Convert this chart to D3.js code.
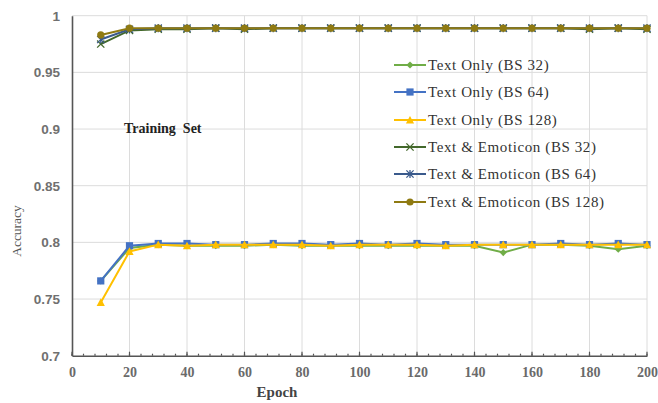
<!DOCTYPE html>
<html><head><meta charset="utf-8">
<script src="https://cdn.jsdelivr.net/npm/d3@7"></script>
<style>body{margin:0;background:#fff;} svg{display:block;}</style>
</head><body>
<svg id="c" width="658" height="403"></svg>
<script>
const epochs = [10,20,30,40,50,60,70,80,90,100,110,120,130,140,150,160,170,180,190,200];
const textBS32  = [0.766,0.795,0.798,0.797,0.797,0.797,0.798,0.797,0.797,0.797,0.797,0.797,0.797,0.797,0.791,0.798,0.798,0.797,0.794,0.797];
const textBS64  = [0.766,0.797,0.799,0.799,0.798,0.798,0.799,0.799,0.798,0.799,0.798,0.799,0.798,0.798,0.798,0.798,0.799,0.798,0.799,0.798];
const textBS128 = [0.747,0.792,0.798,0.797,0.798,0.798,0.798,0.798,0.797,0.798,0.798,0.798,0.797,0.798,0.798,0.798,0.798,0.798,0.798,0.798];
const emoBS32   = [0.975,0.987,0.988,0.988,0.989,0.988,0.989,0.989,0.989,0.989,0.989,0.989,0.989,0.989,0.989,0.989,0.989,0.988,0.989,0.988];
const emoBS64   = [0.979,0.988,0.989,0.989,0.989,0.989,0.989,0.989,0.989,0.989,0.989,0.989,0.989,0.989,0.989,0.989,0.989,0.989,0.989,0.989];
const emoBS128  = [0.983,0.989,0.989,0.989,0.989,0.989,0.989,0.989,0.989,0.989,0.989,0.989,0.989,0.989,0.989,0.989,0.989,0.989,0.989,0.989];
const seriesNames = ["Text Only (BS 32)","Text Only (BS 64)","Text Only (BS 128)","Text & Emoticon (BS 32)","Text & Emoticon (BS 64)","Text & Emoticon (BS 128)"];
const xTicks = [0,20,40,60,80,100,120,140,160,180,200];
const yTicks = [0.7,0.75,0.8,0.85,0.9,0.95,1];

const series = [
  {name:seriesNames[0], values:textBS32, color:"#70AD47", marker:"diamond"},
  {name:seriesNames[1], values:textBS64, color:"#4472C4", marker:"square"},
  {name:seriesNames[2], values:textBS128, color:"#FFC000", marker:"triangle"},
  {name:seriesNames[3], values:emoBS32, color:"#43682B", marker:"x"},
  {name:seriesNames[4], values:emoBS64, color:"#3A5A8C", marker:"star"},
  {name:seriesNames[5], values:emoBS128, color:"#8F7A12", marker:"circle"}
];

const svg = d3.select("#c");
const L=72, R=647, T=15.7, B=355.7;
const x = d3.scaleLinear().domain([0,200]).range([L,R]);
const y = d3.scaleLinear().domain([0.7,1]).range([B,T]);

// grid
svg.append("g").selectAll("line").data(xTicks.slice(1)).join("line")
  .attr("x1",d=>x(d)).attr("x2",d=>x(d)).attr("y1",T).attr("y2",B)
  .attr("stroke","#dcdcdc").attr("stroke-width",1);
svg.append("g").selectAll("line").data(yTicks.slice(1)).join("line")
  .attr("x1",L).attr("x2",R).attr("y1",d=>y(d)).attr("y2",d=>y(d))
  .attr("stroke","#dcdcdc").attr("stroke-width",1);

// axes
const xAxis = svg.append("g").attr("transform",`translate(0,${B})`)
  .call(d3.axisBottom(x).tickValues(xTicks).tickSize(0).tickPadding(11).tickFormat(d3.format("d")));
xAxis.select(".domain").attr("stroke","#555").attr("stroke-width",1.6);
xAxis.selectAll("text").attr("font-family","Liberation Serif").attr("font-size",14).attr("font-weight","bold").attr("fill","#6a6a6a");
// minor ticks
const minor = d3.range(0,201,4);
svg.append("g").selectAll("line").data(minor).join("line")
  .attr("x1",d=>x(d)).attr("x2",d=>x(d)).attr("y1",B-2).attr("y2",B)
  .attr("stroke","#555").attr("stroke-width",1.2);
svg.append("g").selectAll("line").data(xTicks).join("line")
  .attr("x1",d=>x(d)).attr("x2",d=>x(d)).attr("y1",B-4).attr("y2",B)
  .attr("stroke","#555").attr("stroke-width",1.2);

const yAxis = svg.append("g").attr("transform",`translate(${L},0)`)
  .call(d3.axisLeft(y).tickValues(yTicks).tickSize(0).tickPadding(12).tickFormat(d=>String(+d.toFixed(2))));
yAxis.select(".domain").attr("stroke","#555").attr("stroke-width",1.6);
yAxis.selectAll("text").attr("font-family","Liberation Sans").attr("font-size",13.5).attr("font-weight","bold").attr("fill","#707070");

// labels
svg.append("text").attr("x",277).attr("y",397).attr("text-anchor","middle")
  .attr("font-family","Liberation Serif").attr("font-weight","bold").attr("font-size",15).attr("fill","#444").text("Epoch");
svg.append("text").attr("transform","translate(21,231) rotate(-90)").attr("text-anchor","middle")
  .attr("font-family","Liberation Serif").attr("font-size",13.5).attr("fill","#555").text("Accuracy");
svg.append("text").attr("x",124).attr("y",133)
  .attr("font-family","Liberation Serif").attr("font-weight","bold").attr("font-size",14).attr("fill","#222")
  .style("white-space","pre").text("Training  Set");

function drawMarker(g, type, color, cx, cy){
  const s=3.6;
  if(type==="diamond"){
    g.append("path").attr("d",`M${cx},${cy-s}L${cx+s},${cy}L${cx},${cy+s}L${cx-s},${cy}Z`).attr("fill",color);
  } else if(type==="square"){
    g.append("rect").attr("x",cx-s).attr("y",cy-s).attr("width",2*s).attr("height",2*s).attr("fill",color);
  } else if(type==="triangle"){
    g.append("path").attr("d",`M${cx},${cy-s-0.5}L${cx+s+0.5},${cy+s}L${cx-s-0.5},${cy+s}Z`).attr("fill",color);
  } else if(type==="x"){
    g.append("path").attr("d",`M${cx-s},${cy-s}L${cx+s},${cy+s}M${cx-s},${cy+s}L${cx+s},${cy-s}`).attr("stroke",color).attr("stroke-width",1.3);
  } else if(type==="star"){
    g.append("path").attr("d",`M${cx-s},${cy-s}L${cx+s},${cy+s}M${cx-s},${cy+s}L${cx+s},${cy-s}M${cx},${cy-s-0.5}L${cx},${cy+s+0.5}`).attr("stroke",color).attr("stroke-width",1.3);
  } else if(type==="circle"){
    g.append("circle").attr("cx",cx).attr("cy",cy).attr("r",s).attr("fill",color);
  }
}

const line = d3.line().x(d=>x(d[0])).y(d=>y(d[1]));
series.forEach(s=>{
  const g = svg.append("g");
  const pts = epochs.map((e,i)=>[e,s.values[i]]);
  g.append("path").attr("d",line(pts)).attr("fill","none").attr("stroke",s.color).attr("stroke-width",2);
  pts.forEach(p=>drawMarker(g,s.marker,s.color,x(p[0]),y(p[1])));
});

// legend
const legY = [65,92,120,147,174,202];
series.forEach((s,i)=>{
  const g = svg.append("g");
  g.append("line").attr("x1",394).attr("x2",426).attr("y1",legY[i]).attr("y2",legY[i]).attr("stroke",s.color).attr("stroke-width",2);
  drawMarker(g,s.marker,s.color,410,legY[i]);
  g.append("text").attr("x",428).attr("y",legY[i]+5).attr("font-family","Liberation Serif").attr("font-size",15)
    .attr("letter-spacing",0.6).attr("fill","#333").text(s.name);
});
</script>
</body></html>
